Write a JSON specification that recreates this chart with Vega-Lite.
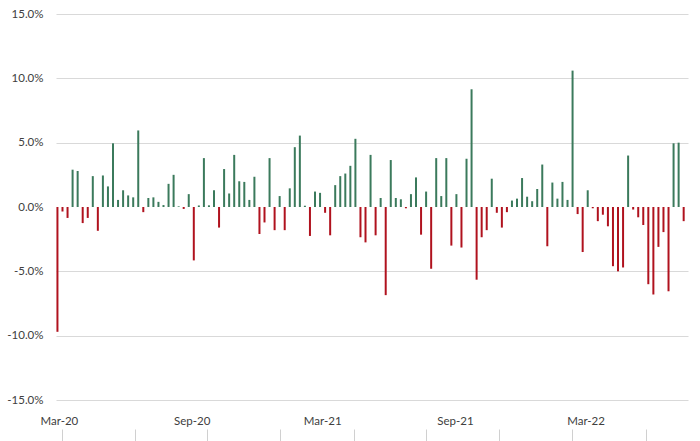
{
  "$schema": "https://vega.github.io/schema/vega-lite/v6.json",
  "width": 632, "height": 386,
  "autosize": {"type": "none"},
  "padding": {"left": 56, "top": 14, "right": 12, "bottom": 41},
  "background": "white",
  "config": {
    "view": {"stroke": null},
    "font": "Lato",
    "axis": {"labelFont": "Lato", "labelFontSize": 11.5, "labelColor": "#404040"}
  },
  "resolve": {"axis": {"x": "independent"}},
  "layer": [
    {
      "data": {"values": [
        {"date": "2020-02-28", "ret": -0.097},
        {"date": "2020-03-06", "ret": -0.0035},
        {"date": "2020-03-13", "ret": -0.0085},
        {"date": "2020-03-20", "ret": 0.029},
        {"date": "2020-03-27", "ret": 0.028},
        {"date": "2020-04-03", "ret": -0.0125},
        {"date": "2020-04-10", "ret": -0.0085},
        {"date": "2020-04-17", "ret": 0.024},
        {"date": "2020-04-24", "ret": -0.0185},
        {"date": "2020-05-01", "ret": 0.0245},
        {"date": "2020-05-08", "ret": 0.016},
        {"date": "2020-05-15", "ret": 0.0495},
        {"date": "2020-05-22", "ret": 0.0055},
        {"date": "2020-05-29", "ret": 0.013},
        {"date": "2020-06-05", "ret": 0.009},
        {"date": "2020-06-12", "ret": 0.0075},
        {"date": "2020-06-19", "ret": 0.0595},
        {"date": "2020-06-26", "ret": -0.004},
        {"date": "2020-07-03", "ret": 0.007},
        {"date": "2020-07-10", "ret": 0.0075},
        {"date": "2020-07-17", "ret": 0.004},
        {"date": "2020-07-24", "ret": 0.0015},
        {"date": "2020-07-31", "ret": 0.018},
        {"date": "2020-08-07", "ret": 0.025},
        {"date": "2020-08-14", "ret": 0.0005},
        {"date": "2020-08-21", "ret": -0.0015},
        {"date": "2020-08-28", "ret": 0.01},
        {"date": "2020-09-04", "ret": -0.0415},
        {"date": "2020-09-11", "ret": 0.0012},
        {"date": "2020-09-18", "ret": 0.038},
        {"date": "2020-09-25", "ret": 0.0013},
        {"date": "2020-10-02", "ret": 0.013},
        {"date": "2020-10-09", "ret": -0.016},
        {"date": "2020-10-16", "ret": 0.0295},
        {"date": "2020-10-23", "ret": 0.0105},
        {"date": "2020-10-30", "ret": 0.0405},
        {"date": "2020-11-06", "ret": 0.02},
        {"date": "2020-11-13", "ret": 0.0195},
        {"date": "2020-11-20", "ret": 0.0055},
        {"date": "2020-11-27", "ret": 0.0235},
        {"date": "2020-12-04", "ret": -0.021},
        {"date": "2020-12-11", "ret": -0.012},
        {"date": "2020-12-18", "ret": 0.038},
        {"date": "2020-12-25", "ret": -0.018},
        {"date": "2021-01-01", "ret": 0.0085},
        {"date": "2021-01-08", "ret": -0.018},
        {"date": "2021-01-15", "ret": 0.0145},
        {"date": "2021-01-22", "ret": 0.0465},
        {"date": "2021-01-29", "ret": 0.0555},
        {"date": "2021-02-05", "ret": 0.001},
        {"date": "2021-02-12", "ret": -0.0225},
        {"date": "2021-02-19", "ret": 0.012},
        {"date": "2021-02-26", "ret": 0.011},
        {"date": "2021-03-05", "ret": -0.0045},
        {"date": "2021-03-12", "ret": -0.022},
        {"date": "2021-03-19", "ret": 0.017},
        {"date": "2021-03-26", "ret": 0.024},
        {"date": "2021-04-02", "ret": 0.026},
        {"date": "2021-04-09", "ret": 0.032},
        {"date": "2021-04-16", "ret": 0.053},
        {"date": "2021-04-23", "ret": -0.0235},
        {"date": "2021-04-30", "ret": -0.0275},
        {"date": "2021-05-07", "ret": 0.0405},
        {"date": "2021-05-14", "ret": -0.022},
        {"date": "2021-05-21", "ret": 0.007},
        {"date": "2021-05-28", "ret": -0.0685},
        {"date": "2021-06-04", "ret": 0.0365},
        {"date": "2021-06-11", "ret": 0.007},
        {"date": "2021-06-18", "ret": 0.006},
        {"date": "2021-06-25", "ret": -0.001},
        {"date": "2021-07-02", "ret": 0.01},
        {"date": "2021-07-09", "ret": 0.023},
        {"date": "2021-07-16", "ret": -0.0215},
        {"date": "2021-07-23", "ret": 0.012},
        {"date": "2021-07-30", "ret": -0.048},
        {"date": "2021-08-06", "ret": 0.038},
        {"date": "2021-08-13", "ret": 0.0085},
        {"date": "2021-08-20", "ret": 0.038},
        {"date": "2021-08-27", "ret": -0.03},
        {"date": "2021-09-03", "ret": 0.01},
        {"date": "2021-09-10", "ret": -0.0315},
        {"date": "2021-09-17", "ret": 0.0375},
        {"date": "2021-09-24", "ret": 0.0915},
        {"date": "2021-10-01", "ret": -0.0565},
        {"date": "2021-10-08", "ret": -0.0235},
        {"date": "2021-10-15", "ret": -0.018},
        {"date": "2021-10-22", "ret": 0.022},
        {"date": "2021-10-29", "ret": -0.0045},
        {"date": "2021-11-05", "ret": -0.016},
        {"date": "2021-11-12", "ret": -0.004},
        {"date": "2021-11-19", "ret": 0.005},
        {"date": "2021-11-26", "ret": 0.0065},
        {"date": "2021-12-03", "ret": 0.0225},
        {"date": "2021-12-10", "ret": 0.008},
        {"date": "2021-12-17", "ret": 0.0045},
        {"date": "2021-12-24", "ret": 0.014},
        {"date": "2021-12-31", "ret": 0.033},
        {"date": "2022-01-07", "ret": -0.0305},
        {"date": "2022-01-14", "ret": 0.019},
        {"date": "2022-01-21", "ret": 0.0065},
        {"date": "2022-01-28", "ret": 0.0195},
        {"date": "2022-02-04", "ret": 0.0055},
        {"date": "2022-02-11", "ret": 0.106},
        {"date": "2022-02-18", "ret": -0.0055},
        {"date": "2022-02-25", "ret": -0.035},
        {"date": "2022-03-04", "ret": 0.013},
        {"date": "2022-03-11", "ret": -0.001},
        {"date": "2022-03-18", "ret": -0.011},
        {"date": "2022-03-25", "ret": -0.006},
        {"date": "2022-04-01", "ret": -0.015},
        {"date": "2022-04-08", "ret": -0.046},
        {"date": "2022-04-15", "ret": -0.05},
        {"date": "2022-04-22", "ret": -0.047},
        {"date": "2022-04-29", "ret": 0.04},
        {"date": "2022-05-06", "ret": -0.002},
        {"date": "2022-05-13", "ret": -0.008},
        {"date": "2022-05-20", "ret": -0.014},
        {"date": "2022-05-27", "ret": -0.06},
        {"date": "2022-06-03", "ret": -0.068},
        {"date": "2022-06-10", "ret": -0.031},
        {"date": "2022-06-17", "ret": -0.0195},
        {"date": "2022-06-24", "ret": -0.0655},
        {"date": "2022-07-01", "ret": 0.0495},
        {"date": "2022-07-08", "ret": 0.05},
        {"date": "2022-07-15", "ret": -0.011}
      ]},
      "mark": {"type": "bar", "width": 2},
      "encoding": {
        "x": {
          "field": "date", "type": "temporal",
          "scale": {"type": "utc", "padding": 0, "domain": [
            {"year": 2020, "month": 2, "date": 26, "utc": true},
            {"year": 2022, "month": 7, "date": 21, "utc": true}
          ]},
          "axis": {
            "title": null, "domain": false, "ticks": false, "grid": false,
            "format": "%b-%y", "labelPadding": 15,
            "values": [
              {"year": 2020, "month": 3, "date": 1, "utc": true},
              {"year": 2020, "month": 9, "date": 1, "utc": true},
              {"year": 2021, "month": 3, "date": 1, "utc": true},
              {"year": 2021, "month": 9, "date": 1, "utc": true},
              {"year": 2022, "month": 3, "date": 1, "utc": true}
            ]
          }
        },
        "y": {
          "field": "ret", "type": "quantitative",
          "scale": {"domain": [-0.15, 0.15], "nice": false},
          "axis": {
            "title": null, "domain": false, "ticks": false,
            "values": [-0.15, -0.1, -0.05, 0, 0.05, 0.1, 0.15],
            "labelExpr": "(datum.value < 0 ? '-' : '') + format(abs(datum.value), '.1%')",
            "labelPadding": 13,
            "gridColor": "#d9d9d9",
            "gridOpacity": {"condition": {"test": "datum.value === 0", "value": 0}, "value": 1}
          }
        },
        "color": {
          "condition": {"test": "datum.ret >= 0", "value": "#3b7a5c"},
          "value": "#b0121e"
        }
      }
    },
    {
      "data": {"values": [
        {"tick": "2020-03-06"}, {"tick": "2020-06-15"}, {"tick": "2020-09-22"},
        {"tick": "2021-01-01"}, {"tick": "2021-04-14"}, {"tick": "2021-07-23"},
        {"tick": "2021-11-01"}, {"tick": "2022-02-10"}, {"tick": "2022-05-24"}
      ]},
      "mark": {"type": "rule", "opacity": 0},
      "encoding": {
        "x": {
          "field": "tick", "type": "temporal",
          "scale": {"type": "utc", "padding": 0, "domain": [
            {"year": 2020, "month": 2, "date": 26, "utc": true},
            {"year": 2022, "month": 7, "date": 21, "utc": true}
          ]},
          "axis": {
            "orient": "bottom", "title": null, "labels": false, "domain": false, "grid": false,
            "ticks": true, "tickSize": 12, "tickColor": "#d0d0d0", "offset": 29,
            "values": [
              {"year": 2020, "month": 3, "date": 6, "utc": true},
              {"year": 2020, "month": 6, "date": 15, "utc": true},
              {"year": 2020, "month": 9, "date": 22, "utc": true},
              {"year": 2021, "month": 1, "date": 1, "utc": true},
              {"year": 2021, "month": 4, "date": 14, "utc": true},
              {"year": 2021, "month": 7, "date": 23, "utc": true},
              {"year": 2021, "month": 11, "date": 1, "utc": true},
              {"year": 2022, "month": 2, "date": 10, "utc": true},
              {"year": 2022, "month": 5, "date": 24, "utc": true}
            ]
          }
        }
      }
    }
  ]
}
